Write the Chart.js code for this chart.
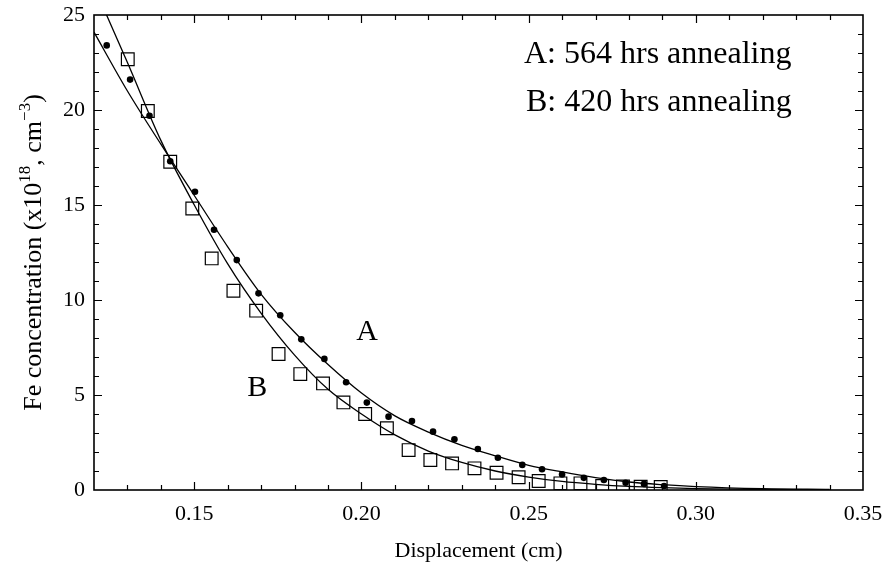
<!DOCTYPE html>
<html>
<head>
<meta charset="utf-8">
<script src="https://cdn.jsdelivr.net/npm/chart.js@4.4.0/dist/chart.umd.min.js"></script>
<style>
  html, body { margin: 0; padding: 0; background: #fff; }
</style>
</head>
<body>
<canvas id="chart" width="887" height="575"></canvas>
<script>
// measured Fe profiles
const dispA = [0.1238, 0.1308, 0.1366, 0.1428, 0.1502, 0.1559, 0.1627, 0.1692, 0.1757, 0.1820,
               0.1889, 0.1954, 0.2016, 0.2081, 0.2151, 0.2214, 0.2278, 0.2348, 0.2408, 0.2481,
               0.2540, 0.2600, 0.2665, 0.2725, 0.2790, 0.2845, 0.2905];
const concA = [23.4, 21.6, 19.7, 17.3, 15.7, 13.7, 12.1, 10.35, 9.2, 7.93,
               6.9, 5.67, 4.6, 3.86, 3.63, 3.07, 2.67, 2.16, 1.7, 1.32,
               1.09, 0.82, 0.64, 0.53, 0.38, 0.32, 0.21];
const dispB = [0.1301, 0.1361, 0.1428, 0.1494, 0.1552, 0.1617, 0.1685, 0.1752, 0.1817, 0.1885,
               0.1946, 0.2011, 0.2076, 0.2141, 0.2206, 0.2271, 0.2338, 0.2404, 0.2470, 0.2530,
               0.2595, 0.2655, 0.2720, 0.2782, 0.2835, 0.2895];
const concB = [22.67, 19.95, 17.28, 14.82, 12.19, 10.49, 9.44, 7.16, 6.1, 5.61,
               4.61, 4.0, 3.25, 2.1, 1.58, 1.4, 1.14, 0.91, 0.67, 0.47,
               0.35, 0.35, 0.21, 0.18, 0.17, 0.16];

// fitted diffusion curves
const fitX = [0.12, 0.13, 0.14, 0.15, 0.16, 0.17, 0.18, 0.19, 0.20, 0.21, 0.22,
              0.23, 0.24, 0.25, 0.26, 0.27, 0.28, 0.29, 0.30, 0.32, 0.34];
const fitA = [24.1, 21.0, 18.2, 15.5, 12.8, 10.3, 8.3, 6.6, 5.1, 3.9, 3.05,
              2.35, 1.8, 1.3, 0.95, 0.65, 0.42, 0.28, 0.18, 0.07, 0.03];
const fitB = [26.5, 22.5, 18.4, 15.0, 11.9, 9.3, 7.1, 5.3, 4.0, 2.9, 2.05,
              1.45, 1.0, 0.68, 0.45, 0.3, 0.19, 0.12, 0.07, 0.03, 0.01];

const xTickValues = [0.15, 0.20, 0.25, 0.30, 0.35];
const yTickValues = [0, 5, 10, 15, 20, 25];
const legendLines = ['A: 564 hrs annealing', 'B: 420 hrs annealing'];

const SERIF = '"Liberation Serif", "Times New Roman", serif';

const pts = (xs, ys) => xs.map((x, i) => ({ x, y: ys[i] }));

// box frame with inward ticks on all four sides
const framePlugin = {
  id: 'frame',
  afterDraw(chart) {
    const { ctx, chartArea: a, scales: { x, y } } = chart;
    ctx.save();
    ctx.strokeStyle = '#000';
    ctx.lineWidth = 1.2;
    ctx.beginPath();
    for (let i = 13; i <= 34; i++) {
      const px = Math.round(x.getPixelForValue(i / 100)) + 0.5;
      const len = i % 5 === 0 ? 8 : 5;
      ctx.moveTo(px, a.bottom); ctx.lineTo(px, a.bottom - len);
      ctx.moveTo(px, a.top); ctx.lineTo(px, a.top + len);
    }
    for (let v = 1; v <= 24; v++) {
      const py = Math.round(y.getPixelForValue(v)) + 0.5;
      const len = v % 5 === 0 ? 8 : 5;
      ctx.moveTo(a.left, py); ctx.lineTo(a.left + len, py);
      ctx.moveTo(a.right, py); ctx.lineTo(a.right - len, py);
    }
    ctx.stroke();
    ctx.lineWidth = 1.6;
    ctx.strokeRect(a.left, a.top, a.right - a.left, a.bottom - a.top);
    ctx.restore();
  }
};

// y title with superscripts, curve labels and the annealing notes
const textPlugin = {
  id: 'texts',
  afterDraw(chart) {
    const { ctx, chartArea: a, scales: { x, y } } = chart;
    ctx.save();
    ctx.fillStyle = '#000';

    // curve labels
    ctx.font = '30px ' + SERIF;
    ctx.textAlign = 'center';
    ctx.textBaseline = 'middle';
    ctx.fillText('A', x.getPixelForValue(0.2017), y.getPixelForValue(8.3));
    ctx.fillText('B', x.getPixelForValue(0.1688), y.getPixelForValue(5.37));

    // annealing times
    ctx.textAlign = 'left';
    ctx.textBaseline = 'alphabetic';
    ctx.font = '32px ' + SERIF;
    ctx.fillText(legendLines[0], 524, 63);
    ctx.fillText(legendLines[1], 526, 111);

    // rotated y-axis title
    const size = 26;
    const parts = [
      ['Fe concentration (x10', 1, 0],
      ['18', 0.65, 1],
      [', cm', 1, 0],
      ['\u22123', 0.65, 1],
      [')', 1, 0]
    ];
    ctx.translate(41, (a.top + a.bottom) / 2);
    ctx.rotate(-Math.PI / 2);
    let total = 0;
    parts.forEach(p => {
      ctx.font = Math.round(size * p[1]) + 'px ' + SERIF;
      total += ctx.measureText(p[0]).width;
    });
    let u = -total / 2;
    parts.forEach(p => {
      ctx.font = Math.round(size * p[1]) + 'px ' + SERIF;
      ctx.fillText(p[0], u, p[2] ? -size * 0.42 : 0);
      u += ctx.measureText(p[0]).width;
    });
    ctx.restore();
  }
};

new Chart(document.getElementById('chart'), {
  type: 'scatter',
  data: {
    datasets: [
      {
        label: 'A fit',
        data: pts(fitX, fitA),
        showLine: true,
        borderColor: '#000',
        borderWidth: 1.3,
        pointRadius: 0,
        cubicInterpolationMode: 'monotone'
      },
      {
        label: 'B fit',
        data: pts(fitX, fitB),
        showLine: true,
        borderColor: '#000',
        borderWidth: 1.3,
        pointRadius: 0,
        cubicInterpolationMode: 'monotone'
      },
      {
        label: 'A: 564 hrs',
        data: pts(dispA, concA),
        pointStyle: 'circle',
        pointRadius: 3.3,
        backgroundColor: '#000',
        borderColor: '#000',
        borderWidth: 0
      },
      {
        label: 'B: 420 hrs',
        data: pts(dispB, concB),
        pointStyle: 'rect',
        pointRadius: 9,
        backgroundColor: 'rgba(0,0,0,0)',
        borderColor: '#000',
        borderWidth: 1.2
      }
    ]
  },
  options: {
    responsive: false,
    animation: false,
    devicePixelRatio: 1,
    layout: { padding: { top: 15, right: 24, left: 0, bottom: 0 } },
    plugins: {
      legend: { display: false },
      tooltip: { enabled: false }
    },
    scales: {
      x: {
        type: 'linear',
        min: 0.12,
        max: 0.35,
        grid: { display: false, drawTicks: false },
        border: { display: false },
        afterBuildTicks: s => { s.ticks = xTickValues.map(v => ({ value: v })); },
        afterFit: s => { s.height = 85; s.paddingLeft = 0; s.paddingRight = 0; },
        ticks: {
          padding: 11,
          color: '#000',
          maxRotation: 0,
          font: { family: SERIF, size: 22 },
          callback: v => v.toFixed(2)
        },
        title: {
          display: true,
          text: 'Displacement (cm)',
          color: '#000',
          font: { family: SERIF, size: 22 },
          padding: { top: 0, bottom: 11 }
        }
      },
      y: {
        type: 'linear',
        min: 0,
        max: 25,
        grid: { display: false, drawTicks: false },
        border: { display: false },
        afterBuildTicks: s => { s.ticks = yTickValues.map(v => ({ value: v })); },
        afterFit: s => { s.width = 94; s.paddingTop = 0; s.paddingBottom = 0; },
        ticks: {
          padding: 9,
          color: '#000',
          font: { family: SERIF, size: 22 }
        }
      }
    }
  },
  plugins: [framePlugin, textPlugin]
});
</script>
</body>
</html>
